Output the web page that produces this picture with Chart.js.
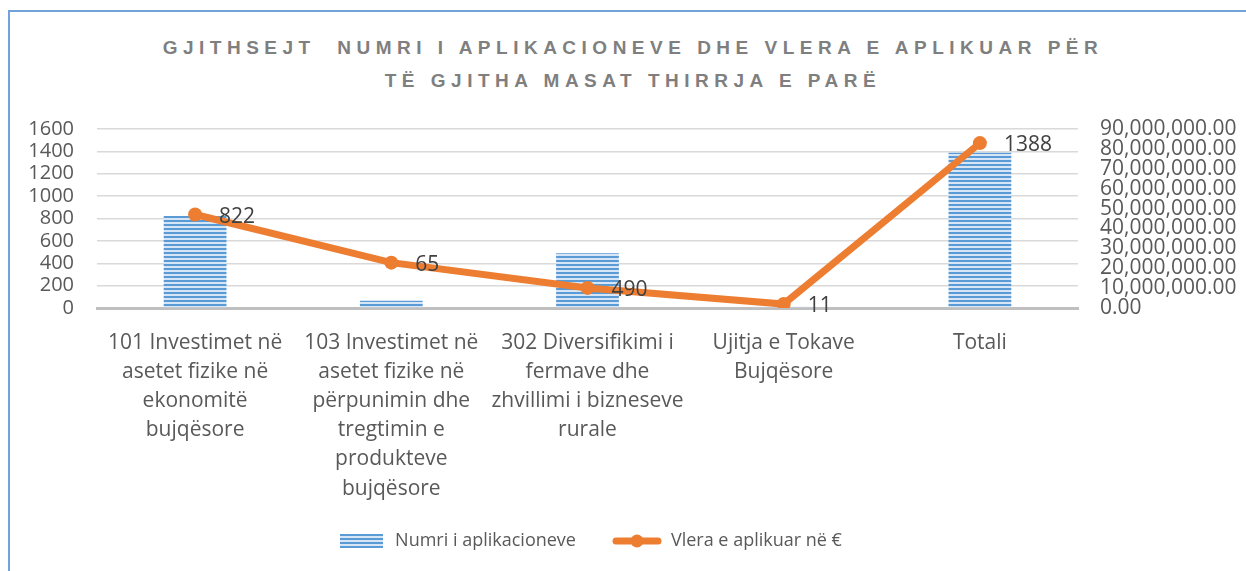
<!DOCTYPE html>
<html>
<head>
<meta charset="utf-8">
<script src="https://cdn.jsdelivr.net/npm/chart.js@4"></script>
<style>
  html, body { margin: 0; padding: 0; background: #fff; overflow: hidden; }
  #frame {
    position: absolute; left: 8px; top: 10px; width: 1260px; height: 580px;
    border: 2px solid #6fa3d9; box-sizing: border-box;
  }
  #title {
    position: absolute; left: 10px; top: 31px; width: 1246px; text-align: center;
    font-family: "Liberation Sans", sans-serif; font-weight: bold; font-size: 19px;
    letter-spacing: 5.5px; color: #7f7f7f; line-height: 33px;
  }
  #wrap { position: absolute; left: 0; top: 0; width: 1246px; height: 571px; }
</style>
</head>
<body>
<div id="frame"></div>
<div id="title">GJITHSEJT&nbsp; NUMRI I APLIKACIONEVE DHE VLERA E APLIKUAR PËR<br>TË GJITHA MASAT THIRRJA E PARË</div>
<div id="wrap"><canvas id="chart" width="1246" height="571"></canvas></div>
<script>
// kategoritë (masat)
const categories = [
  ['101 Investimet në', 'asetet fizike në', 'ekonomitë', 'bujqësore'],
  ['103 Investimet në', 'asetet fizike në', 'përpunimin dhe', 'tregtimin e', 'produkteve', 'bujqësore'],
  ['302 Diversifikimi i', 'fermave dhe', 'zhvillimi i bizneseve', 'rurale'],
  ['Ujitja e Tokave', 'Bujqësore'],
  ['Totali']
];
// numri i aplikacioneve
const numriAplikacioneve = [822, 65, 490, 11, 1388];
// vlera e aplikuar në € (lexuar nga grafiku)
const vleraAplikuar = [47000000, 22800000, 10100000, 2000000, 82900000];

const leftTicks = [0, 1600, 200];
const rightTicks = [0, 90000000, 10000000];

const FONT = '"Open Sans", sans-serif';
const BLUE = '#5b9bd5';
const ORANGE = '#ed7d31';

// vija horizontale për shtyllat
function makeStripes() {
  const c = document.createElement('canvas');
  c.width = 8; c.height = 4;
  const g = c.getContext('2d');
  g.fillStyle = '#d6e6f6';
  g.fillRect(0, 0, 8, 4);
  g.fillStyle = BLUE;
  g.fillRect(0, 0, 8, 2);
  return g.createPattern(c, 'repeat');
}
const stripes = makeStripes();

// ikonat e legjendës
function legendBar() {
  const c = document.createElement('canvas');
  c.width = 43; c.height = 14;
  const g = c.getContext('2d');
  g.fillStyle = stripes;
  g.fillRect(0, 0, 43, 14);
  return c;
}
function legendLine() {
  const c = document.createElement('canvas');
  c.width = 50; c.height = 14;
  const g = c.getContext('2d');
  g.strokeStyle = ORANGE;
  g.lineWidth = 7;
  g.lineCap = 'round';
  g.beginPath(); g.moveTo(4, 7); g.lineTo(46, 7); g.stroke();
  g.fillStyle = ORANGE;
  g.beginPath(); g.arc(25, 7, 6.5, 0, Math.PI * 2); g.fill();
  return c;
}

// etiketat pranë pikave të vijës
const pointLabels = {
  id: 'pointLabels',
  afterDatasetsDraw(chart) {
    const meta = chart.getDatasetMeta(1);
    const ctx = chart.ctx;
    ctx.save();
    ctx.font = '21px ' + FONT;
    ctx.fillStyle = '#404040';
    ctx.textAlign = 'left';
    ctx.textBaseline = 'middle';
    meta.data.forEach((pt, i) => {
      ctx.fillText(String(numriAplikacioneve[i]), pt.x + 24, pt.y + 2);
    });
    ctx.restore();
  }
};

// legjenda pak majtas e lart si në origjinal
const shiftLegend = {
  id: 'shiftLegend',
  afterLayout(chart) {
    const lg = chart.legend;
    if (lg) {
      lg.left -= 40;
      lg.right -= 40;
      lg.top -= 8;
      lg.bottom -= 8;
    }
  }
};

new Chart(document.getElementById('chart'), {
  data: {
    labels: categories,
    datasets: [
      {
        type: 'bar',
        label: 'Numri i aplikacioneve',
        data: numriAplikacioneve,
        backgroundColor: stripes,
        borderWidth: 0,
        barPercentage: 0.64,
        categoryPercentage: 0.5,
        yAxisID: 'y',
        order: 2
      },
      {
        type: 'line',
        label: 'Vlera e aplikuar në €',
        data: vleraAplikuar,
        borderColor: ORANGE,
        backgroundColor: ORANGE,
        borderWidth: 7,
        pointRadius: 7,
        pointHoverRadius: 7,
        pointBackgroundColor: ORANGE,
        pointBorderWidth: 0,
        tension: 0,
        yAxisID: 'y1',
        order: 1
      }
    ]
  },
  options: {
    responsive: false,
    animation: false,
    layout: { padding: { left: 20, right: 8, top: 129, bottom: 3 } },
    plugins: {
      legend: {
        position: 'bottom',
        labels: {
          font: { family: FONT, size: 18 },
          color: '#595959',
          usePointStyle: true,
          pointStyleWidth: 50,
          boxHeight: 14,
          padding: 36,
          generateLabels(chart) {
            return [
              { text: 'Numri i aplikacioneve', pointStyle: legendBar(), fillStyle: BLUE, strokeStyle: BLUE, lineWidth: 0, datasetIndex: 0, fontColor: '#595959' },
              { text: 'Vlera e aplikuar në €', pointStyle: legendLine(), fillStyle: ORANGE, strokeStyle: ORANGE, lineWidth: 0, datasetIndex: 1, fontColor: '#595959' }
            ];
          }
        }
      },
      tooltip: { enabled: false }
    },
    scales: {
      x: {
        grid: { display: false },
        border: { display: true, color: '#bfbfbf', width: 3 },
        ticks: {
          font: { family: FONT, size: 21, lineHeight: 1.39 },
          color: '#595959',
          padding: 12,
          maxRotation: 0,
          autoSkip: false
        },
        afterFit(s) { s.height = 196; }
      },
      y: {
        position: 'left',
        min: leftTicks[0], max: leftTicks[1],
        ticks: {
          stepSize: leftTicks[2],
          autoSkip: false,
          font: { family: FONT, size: 20, lineHeight: 1 },
          color: '#595959',
          padding: 23,
          callback: v => String(v)
        },
        grid: { color: '#d9d9d9', lineWidth: 1.5, drawTicks: false },
        border: { display: false },
        afterFit(s) { s.width = 77; }
      },
      y1: {
        position: 'right',
        min: rightTicks[0], max: rightTicks[1],
        ticks: {
          stepSize: rightTicks[2],
          autoSkip: false,
          font: { family: FONT, size: 21, lineHeight: 1 },
          color: '#595959',
          padding: 22,
          callback: v => v.toLocaleString('en-US', { minimumFractionDigits: 2, maximumFractionDigits: 2 })
        },
        grid: { display: false, drawTicks: false },
        border: { display: false },
        afterFit(s) { s.width = 160; }
      }
    }
  },
  plugins: [pointLabels, shiftLegend]
});
</script>
</body>
</html>
